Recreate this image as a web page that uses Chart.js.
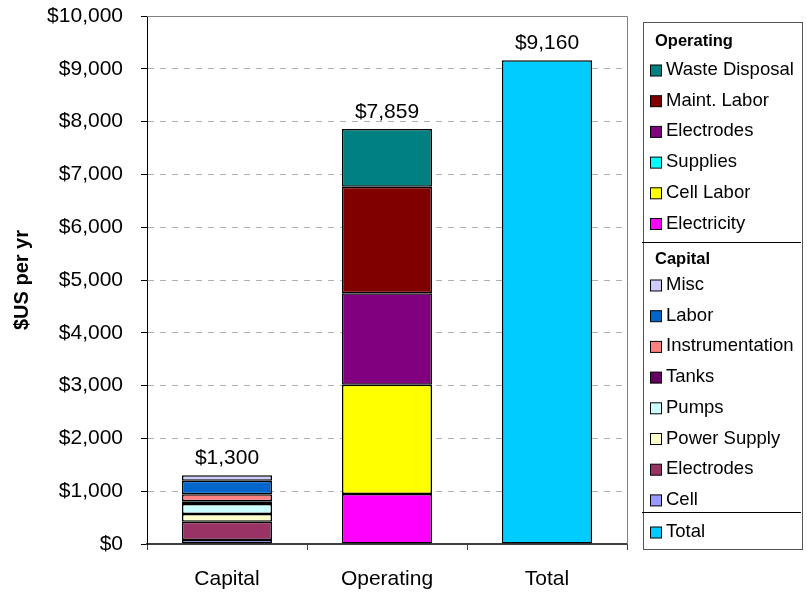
<!DOCTYPE html>
<html lang="en">
<head>
  <meta charset="UTF-8">
  <title>Annual Cost</title>
  <script src="https://cdn.jsdelivr.net/npm/chart.js"></script>
  <style>
    body { margin: 0; background: #fff; }
    canvas { display: block; }
  </style>
</head>
<body>

  <canvas id="costChart" width="807" height="593"></canvas>

  <script>
    const categories = ['Capital', 'Operating', 'Total'];

    // capital items, bottom of stack first
    const capitalItems = ['Cell', 'Electrodes', 'Power Supply', 'Pumps', 'Tanks', 'Instrumentation', 'Labor', 'Misc'];
    const capitalValues = [76, 347, 146, 189, 51, 133, 258, 100];
    const capitalColors = ['#9999FF', '#993366', '#FFFFCC', '#CCFFFF', '#660066', '#FF8080', '#0066CC', '#CCCCFF'];

    // operating items, bottom of stack first
    const operatingItems = ['Electricity', 'Cell Labor', 'Supplies', 'Electrodes', 'Maint. Labor', 'Waste Disposal'];
    const operatingValues = [947, 2070, 0, 1731, 2019, 1092];
    const operatingColors = ['#FF00FF', '#FFFF00', '#00FFFF', '#800080', '#800000', '#008080'];

    const totalLabel = 'Total';
    const totalValue = 9160;
    const totalColor = '#00CCFF';

    const yTicks = [0, 1000, 2000, 3000, 4000, 5000, 6000, 7000, 8000, 9000, 10000];

    const FONT = "'Liberation Sans', Arial, sans-serif";
    const money = v => '$' + Math.round(v).toLocaleString('en-US');

    const datasets = [];
    capitalItems.forEach((name, i) => {
      datasets.push({ label: name, data: [capitalValues[i], null, null], backgroundColor: capitalColors[i] });
    });
    operatingItems.forEach((name, i) => {
      datasets.push({ label: name, data: [null, operatingValues[i], null], backgroundColor: operatingColors[i] });
    });
    datasets.push({ label: totalLabel, data: [null, null, totalValue], backgroundColor: totalColor });
    datasets.forEach(d => {
      d.borderColor = '#000';
      d.borderWidth = 1.5;
      d.borderSkipped = false;
      d.categoryPercentage = 1;
      d.barPercentage = 0.5625;
    });

    // value labels above each stack
    const stackLabels = {
      id: 'stackLabels',
      afterDatasetsDraw(chart) {
        const ctx = chart.ctx;
        const x = chart.scales.x, y = chart.scales.y;
        ctx.save();
        ctx.font = '21px ' + FONT;
        ctx.fillStyle = '#000';
        ctx.textAlign = 'center';
        ctx.textBaseline = 'alphabetic';
        categories.forEach((c, i) => {
          let sum = 0;
          chart.data.datasets.forEach(d => { sum += d.data[i] || 0; });
          ctx.fillText(money(sum), x.getPixelForValue(i), y.getPixelForValue(sum) - 11);
        });
        ctx.restore();
      }
    };

    // grey frame on top and right of plot area
    const plotFrame = {
      id: 'plotFrame',
      beforeDatasetsDraw(chart) {
        const a = chart.chartArea, ctx = chart.ctx;
        ctx.save();
        ctx.strokeStyle = '#808080';
        ctx.lineWidth = 1;
        ctx.beginPath();
        ctx.moveTo(a.left, a.top + 0.5);
        ctx.lineTo(a.right + 0.5, a.top + 0.5);
        ctx.lineTo(a.right + 0.5, a.bottom);
        ctx.stroke();
        ctx.restore();
      }
    };

    // grouped legend box on the right
    const groupLegend = {
      id: 'groupLegend',
      afterDraw(chart) {
        const ctx = chart.ctx;
        const left = 643, top = 22, w = 159, h = 527;
        ctx.save();
        ctx.strokeStyle = '#555';
        ctx.lineWidth = 1;
        ctx.strokeRect(left + 0.5, top + 0.5, w, h);

        const item = (name, color, yc) => {
          ctx.fillStyle = color;
          ctx.fillRect(650.5, yc - 5, 11, 11);
          ctx.strokeStyle = '#000';
          ctx.strokeRect(650.5, yc - 5, 11, 11);
          ctx.fillStyle = '#000';
          ctx.font = '18.5px ' + FONT;
          ctx.textAlign = 'left';
          ctx.textBaseline = 'middle';
          ctx.fillText(name, 666, yc);
        };
        const header = (name, yc) => {
          ctx.fillStyle = '#000';
          ctx.font = 'bold 16.5px ' + FONT;
          ctx.textAlign = 'left';
          ctx.textBaseline = 'middle';
          ctx.fillText(name, 655, yc);
        };
        const rule = yc => {
          ctx.strokeStyle = '#000';
          ctx.beginPath();
          ctx.moveTo(642, yc + 0.5);
          ctx.lineTo(801, yc + 0.5);
          ctx.stroke();
        };

        const step = 30.7;
        header('Operating', 41);
        for (let i = operatingItems.length - 1, k = 0; i >= 0; i--, k++) {
          item(operatingItems[i], operatingColors[i], 70 + k * step);
        }
        rule(242);
        header('Capital', 259);
        for (let i = capitalItems.length - 1, k = 0; i >= 0; i--, k++) {
          item(capitalItems[i], capitalColors[i], 285 + k * step);
        }
        rule(512);
        item(totalLabel, totalColor, 532);
        ctx.restore();
      }
    };

    const ctx = document.getElementById('costChart').getContext('2d');
    new Chart(ctx, {
      type: 'bar',
      data: { labels: categories, datasets: datasets },
      plugins: [plotFrame, stackLabels, groupLegend],
      options: {
        responsive: false,
        animation: false,
        devicePixelRatio: 1,
        layout: { padding: { left: 0, right: 180, top: 16, bottom: 0 } },
        plugins: {
          legend: { display: false },
          tooltip: { enabled: false }
        },
        scales: {
          x: {
            stacked: true,
            afterFit: s => { s.height = 49; s.paddingLeft = 0; s.paddingRight = 0; },
            grid: { offset: true, drawOnChartArea: false, drawTicks: true, tickLength: 6, color: '#404040' },
            border: { color: '#404040', width: 2 },
            ticks: { color: '#000', font: { family: FONT, size: 21 }, padding: 17 }
          },
          y: {
            stacked: true,
            min: 0,
            max: 10000,
            afterFit: s => { s.width = 147; s.paddingTop = 0; s.paddingBottom = 0; },
            afterBuildTicks: s => { s.ticks = yTicks.map(v => ({ value: v })); },
            grid: {
              color: '#b0b0b0',
              tickColor: '#000',
              tickBorderDash: [],
              tickLength: 6
            },
            border: { color: '#000', width: 1, dash: [6, 6] },
            ticks: {
              color: '#000',
              font: { family: FONT, size: 21 },
              padding: 18,
              callback: v => money(v)
            },
            title: {
              display: true,
              text: '$US per yr',
              color: '#000',
              font: { family: FONT, size: 20, weight: 'bold' },
              padding: { top: 10, bottom: 0 }
            }
          }
        }
      }
    });
  </script>

</body>
</html>
